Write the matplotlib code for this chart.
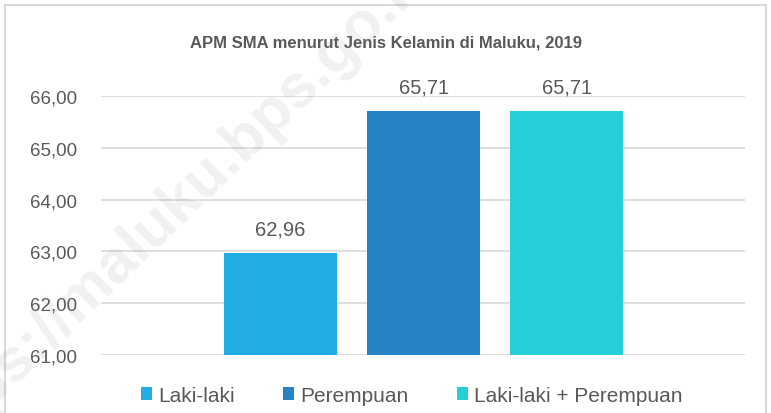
import matplotlib.pyplot as plt
from matplotlib.patches import Rectangle

plt.rcParams['font.family'] = ['Liberation Sans', 'DejaVu Sans']

# Data
series = ["Laki-laki", "Perempuan", "Laki-laki + Perempuan"]
values = [62.96, 65.71, 65.71]
colors = ["#1FADE4", "#2683C6", "#27CED7"]
yticks = [61, 62, 63, 64, 65, 66]
title = "APM SMA menurut Jenis Kelamin di Maluku, 2019"

text_color = "#595959"

fig = plt.figure(figsize=(7.71, 4.14), dpi=100)
ax = fig.add_axes([0.131, 0.140, 0.835, 0.626])

offsets = [-1, 0, 1]
for off, name, v, c in zip(offsets, series, values, colors):
    ax.bar(off, v - 61, bottom=61, width=0.79, color=c, label=name, zorder=3)
    ax.text(off, v + 0.28, f"{v:.2f}".replace(".", ","), ha="center", va="bottom",
            fontsize=14.5, color=text_color)

ax.set_xlim(-2.255, 2.245)
ax.set_ylim(61, 66)
ax.set_yticks(yticks)
ax.set_yticklabels([f"{t:.2f}".replace(".", ",") for t in yticks], fontsize=13.5, color=text_color)
ax.set_xticks([])
ax.grid(axis="y", color="#D9D9D9", linewidth=1.2, zorder=0)
for s in ax.spines.values():
    s.set_visible(False)
ax.tick_params(axis="y", length=0, pad=17)

fig.text(0.5, 0.897, title, ha="center", va="center", fontsize=12,
         fontweight="bold", color=text_color)

fig.legend(loc="center", bbox_to_anchor=(0.534, 0.043), ncol=3, frameon=False,
           fontsize=15, handlelength=0.55, handleheight=0.55, handletextpad=0.3,
           columnspacing=2.3, labelcolor=text_color)

# chart border
fig.patches.append(Rectangle((0.006, -0.01), 0.987, 0.996, transform=fig.transFigure,
                             fill=False, edgecolor="#D9D9D9", linewidth=1.5))

# watermark
fig.text(0.225, 0.5, "https://maluku.bps.go.id", rotation=44, fontsize=44,
         fontweight="bold", color="#888888", alpha=0.12, ha="center", va="center",
         zorder=10)

fig.savefig("out.png", dpi=100)
